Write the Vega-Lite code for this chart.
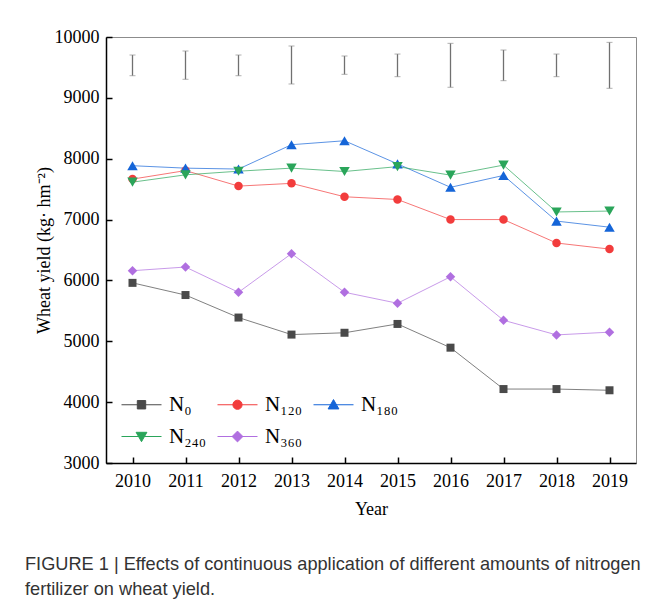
{
  "$schema": "https://vega.github.io/schema/vega-lite/v6.json",
  "width": 530,
  "height": 426,
  "autosize": "none",
  "padding": {"left": 106, "top": 37, "right": 21, "bottom": 145},
  "background": "white",
  "config": {
    "view": {"stroke": "#8c8c8c", "strokeWidth": 1},
    "font": "Liberation Serif",
    "legend": {
      "orient": "none",
      "legendX": 5,
      "legendY": 357,
      "columns": 3,
      "direction": "horizontal",
      "columnPadding": -3,
      "rowPadding": 10,
      "padding": 0,
      "symbolSize": 64,
      "symbolStrokeWidth": 1,
      "symbolOpacity": 1,
      "labelOffset": 37,
      "labelFont": "Liberation Serif",
      "labelFontSize": 21,
      "labelColor": "black"
    }
  },
  "title": {
    "text": ["FIGURE 1 | Effects of continuous application of different amounts of nitrogen", "fertilizer on wheat yield."],
    "orient": "bottom",
    "anchor": "start",
    "frame": "group",
    "dx": -81,
    "offset": 38,
    "font": "Liberation Sans",
    "fontSize": 18.2,
    "fontWeight": "normal",
    "color": "#333333",
    "lineHeight": 25
  },
  "datasets": {
    "yield": [
      {"year": 2010, "series": "N₀", "value": 5960},
      {"year": 2011, "series": "N₀", "value": 5760},
      {"year": 2012, "series": "N₀", "value": 5390},
      {"year": 2013, "series": "N₀", "value": 5110},
      {"year": 2014, "series": "N₀", "value": 5140},
      {"year": 2015, "series": "N₀", "value": 5285},
      {"year": 2016, "series": "N₀", "value": 4895},
      {"year": 2017, "series": "N₀", "value": 4215},
      {"year": 2018, "series": "N₀", "value": 4215},
      {"year": 2019, "series": "N₀", "value": 4195},
      {"year": 2010, "series": "N₁₂₀", "value": 7665},
      {"year": 2011, "series": "N₁₂₀", "value": 7805},
      {"year": 2012, "series": "N₁₂₀", "value": 7550},
      {"year": 2013, "series": "N₁₂₀", "value": 7595},
      {"year": 2014, "series": "N₁₂₀", "value": 7375},
      {"year": 2015, "series": "N₁₂₀", "value": 7330},
      {"year": 2016, "series": "N₁₂₀", "value": 7000},
      {"year": 2017, "series": "N₁₂₀", "value": 7000},
      {"year": 2018, "series": "N₁₂₀", "value": 6615},
      {"year": 2019, "series": "N₁₂₀", "value": 6515},
      {"year": 2010, "series": "N₁₈₀", "value": 7885},
      {"year": 2011, "series": "N₁₈₀", "value": 7845},
      {"year": 2012, "series": "N₁₈₀", "value": 7830},
      {"year": 2013, "series": "N₁₈₀", "value": 8230},
      {"year": 2014, "series": "N₁₈₀", "value": 8295},
      {"year": 2015, "series": "N₁₈₀", "value": 7915},
      {"year": 2016, "series": "N₁₈₀", "value": 7530},
      {"year": 2017, "series": "N₁₈₀", "value": 7725},
      {"year": 2018, "series": "N₁₈₀", "value": 6975},
      {"year": 2019, "series": "N₁₈₀", "value": 6875},
      {"year": 2010, "series": "N₂₄₀", "value": 7615},
      {"year": 2011, "series": "N₂₄₀", "value": 7735},
      {"year": 2012, "series": "N₂₄₀", "value": 7795},
      {"year": 2013, "series": "N₂₄₀", "value": 7845},
      {"year": 2014, "series": "N₂₄₀", "value": 7790},
      {"year": 2015, "series": "N₂₄₀", "value": 7870},
      {"year": 2016, "series": "N₂₄₀", "value": 7730},
      {"year": 2017, "series": "N₂₄₀", "value": 7895},
      {"year": 2018, "series": "N₂₄₀", "value": 7125},
      {"year": 2019, "series": "N₂₄₀", "value": 7140},
      {"year": 2010, "series": "N₃₆₀", "value": 6160},
      {"year": 2011, "series": "N₃₆₀", "value": 6220},
      {"year": 2012, "series": "N₃₆₀", "value": 5805},
      {"year": 2013, "series": "N₃₆₀", "value": 6440},
      {"year": 2014, "series": "N₃₆₀", "value": 5805},
      {"year": 2015, "series": "N₃₆₀", "value": 5625},
      {"year": 2016, "series": "N₃₆₀", "value": 6060},
      {"year": 2017, "series": "N₃₆₀", "value": 5345},
      {"year": 2018, "series": "N₃₆₀", "value": 5105},
      {"year": 2019, "series": "N₃₆₀", "value": 5150}
    ],
    "errors": [
      {"year": 2010, "lo": 9364, "hi": 9704},
      {"year": 2011, "lo": 9305, "hi": 9770},
      {"year": 2012, "lo": 9364, "hi": 9704},
      {"year": 2013, "lo": 9228, "hi": 9852},
      {"year": 2014, "lo": 9387, "hi": 9688},
      {"year": 2015, "lo": 9348, "hi": 9720},
      {"year": 2016, "lo": 9174, "hi": 9896},
      {"year": 2017, "lo": 9282, "hi": 9786},
      {"year": 2018, "lo": 9348, "hi": 9720},
      {"year": 2019, "lo": 9157, "hi": 9912}
    ]
  },
  "encoding": {
    "x": {
      "field": "year",
      "type": "quantitative",
      "scale": {"domain": [2009.5, 2019.5], "nice": false, "zero": false},
      "axis": {
        "title": "Year",
        "values": [2010, 2011, 2012, 2013, 2014, 2015, 2016, 2017, 2018, 2019],
        "format": "d",
        "grid": false,
        "tickSize": -6,
        "tickWidth": 1.5,
        "tickColor": "black",
        "domainColor": "black",
        "domainWidth": 1.5,
        "labelFont": "Liberation Serif",
        "labelFontSize": 18,
        "labelColor": "black",
        "labelPadding": 15,
        "labelFlush": false,
        "titleFont": "Liberation Serif",
        "titleFontSize": 18,
        "titleFontWeight": "normal",
        "titleColor": "black",
        "titlePadding": 10
      }
    },
    "y": {
      "field": "value",
      "type": "quantitative",
      "scale": {"domain": [3000, 10000], "nice": false, "zero": false},
      "axis": {
        "title": "Wheat yield (kg· hm⁻²)",
        "values": [3000, 4000, 5000, 6000, 7000, 8000, 9000, 10000],
        "format": "d",
        "grid": false,
        "tickSize": -6,
        "tickWidth": 1.5,
        "tickColor": "black",
        "domainColor": "black",
        "domainWidth": 1.5,
        "labelFont": "Liberation Serif",
        "labelFontSize": 18,
        "labelColor": "black",
        "labelPadding": 13,
        "titleFont": "Liberation Serif",
        "titleFontSize": 18,
        "titleFontWeight": "normal",
        "titleColor": "black",
        "titlePadding": 1
      }
    }
  },
  "layer": [
    {
      "data": {"name": "errors"},
      "mark": {"type": "rule", "color": "#707070", "strokeWidth": 1.3},
      "encoding": {
        "y": {"field": "lo", "type": "quantitative"},
        "y2": {"field": "hi"}
      }
    },
    {
      "data": {"name": "errors"},
      "mark": {"type": "tick", "orient": "horizontal", "color": "#909090", "size": 6, "thickness": 1},
      "encoding": {"y": {"field": "lo", "type": "quantitative"}}
    },
    {
      "data": {"name": "errors"},
      "mark": {"type": "tick", "orient": "horizontal", "color": "#909090", "size": 6, "thickness": 1},
      "encoding": {"y": {"field": "hi", "type": "quantitative"}}
    },
    {
      "data": {"name": "yield"},
      "mark": {"type": "line", "strokeWidth": 1, "opacity": 0.7},
      "encoding": {
        "color": {
          "field": "series",
          "type": "nominal",
          "scale": {
            "domain": ["N₀", "N₁₂₀", "N₁₈₀", "N₂₄₀", "N₃₆₀"],
            "range": ["#4a4a4a", "#f23c3c", "#1565d8", "#2aa55a", "#b06fe0"]
          },
          "legend": {"title": null}
        }
      }
    },
    {
      "data": {"name": "yield"},
      "transform": [{"filter": "false"}],
      "mark": {"type": "point", "filled": true, "size": 64},
      "encoding": {
        "color": {"field": "series", "type": "nominal"},
        "shape": {
          "field": "series",
          "type": "nominal",
          "scale": {
            "domain": ["N₀", "N₁₂₀", "N₁₈₀", "N₂₄₀", "N₃₆₀"],
            "range": [
              "M0,0H10M3.95,-1.05H6.05V1.05H3.95Z",
              "M0,0H10M6.15,0A1.15,1.15,0,1,1,3.85,0A1.15,1.15,0,1,1,6.15,0Z",
              "M0,0H10M5,-1.3L6.35,1.05H3.65Z",
              "M0,0H10M5,1.3L6.35,-1.05H3.65Z",
              "M0,0H10M5,-1.35L6.35,0L5,1.35L3.65,0Z"
            ]
          },
          "legend": {"title": null}
        }
      }
    },
    {
      "data": {"name": "yield"},
      "transform": [{"filter": "datum.series === 'N₀'"}],
      "mark": {"type": "point", "shape": "square", "filled": true, "size": 64, "opacity": 1},
      "encoding": {"color": {"field": "series", "type": "nominal"}}
    },
    {
      "data": {"name": "yield"},
      "transform": [{"filter": "datum.series === 'N₁₂₀'"}],
      "mark": {"type": "point", "shape": "circle", "filled": true, "size": 72, "opacity": 1},
      "encoding": {"color": {"field": "series", "type": "nominal"}}
    },
    {
      "data": {"name": "yield"},
      "transform": [{"filter": "datum.series === 'N₁₈₀'"}],
      "mark": {"type": "point", "shape": "triangle-up", "filled": true, "size": 110, "opacity": 1},
      "encoding": {"color": {"field": "series", "type": "nominal"}}
    },
    {
      "data": {"name": "yield"},
      "transform": [{"filter": "datum.series === 'N₂₄₀'"}],
      "mark": {"type": "point", "shape": "triangle-down", "filled": true, "size": 110, "opacity": 1},
      "encoding": {"color": {"field": "series", "type": "nominal"}}
    },
    {
      "data": {"name": "yield"},
      "transform": [{"filter": "datum.series === 'N₃₆₀'"}],
      "mark": {"type": "point", "shape": "diamond", "filled": true, "size": 90, "opacity": 1},
      "encoding": {"color": {"field": "series", "type": "nominal"}}
    }
  ]
}
